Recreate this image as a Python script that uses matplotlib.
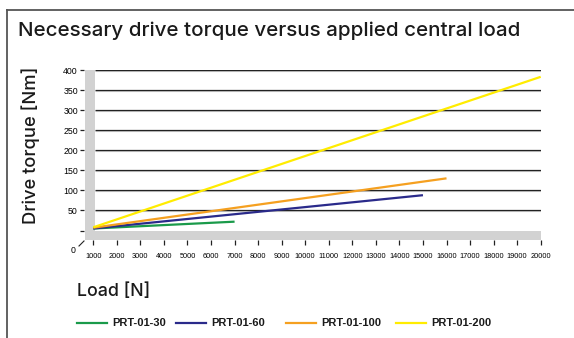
import matplotlib
matplotlib.use("Agg")
import matplotlib.pyplot as plt
from matplotlib.patches import Rectangle
from matplotlib.lines import Line2D

plt.rcParams['font.family'] = ['Liberation Sans', 'DejaVu Sans']

# Load [N] vs drive torque [Nm], start and end of each curve
series = ['PRT-01-30', 'PRT-01-60', 'PRT-01-100', 'PRT-01-200']
load_30 = [1000, 7000]
torque_30 = [5, 22]
load_60 = [1000, 15000]
torque_60 = [5, 88]
load_100 = [1000, 16000]
torque_100 = [7, 130]
load_200 = [1000, 20000]
torque_200 = [8, 383]
colors = ['#1a9a4a', '#2a2a8a', '#f5a020', '#ffec00']

x_ticks = list(range(1000, 21000, 1000))
y_ticks = [0, 50, 100, 150, 200, 250, 300, 350, 400]
y_labels = ['', '50', '100', '150', '200', '250', '300', '350', '400']

W, H = 574, 338
fig = plt.figure(figsize=(W / 100, H / 100), dpi=100)

def fx(x):
    return x / W

def fy(y):
    return 1 - y / H

# plot area in pixels: x 1000 -> 93, 20000 -> 541 ; y 0 -> 230.5, 400 -> 70
left, right, top, bottom = 93.3, 540.7, 70, 230.5
ax = fig.add_axes([fx(left), fy(bottom), fx(right - left), (bottom - top) / H])
ax.set_xlim(1000, 20000)
ax.set_ylim(0, 400)
ax.patch.set_visible(False)

# frame around the figure (left and top only)
fig.add_artist(Line2D([fx(7), fx(7)], [fy(10), fy(H + 2)], transform=fig.transFigure,
                      color='#555555', lw=1.3))
fig.add_artist(Line2D([fx(7), fx(W + 2)], [fy(10), fy(10)], transform=fig.transFigure,
                      color='#555555', lw=1.3))

# grey wall and floor
gray = '#d2d2d2'
ax.add_patch(Rectangle((fx(85), fy(240)), fx(10), (240 - 70) / H, transform=fig.transFigure,
                       facecolor=gray, edgecolor='none', clip_on=False, zorder=0))
ax.add_patch(Rectangle((fx(85), fy(239.5)), fx(540.7 - 85), 9 / H, transform=fig.transFigure,
                       facecolor=gray, edgecolor='none', clip_on=False, zorder=0))

# gridlines on the back wall, with a faint shadow underneath
ax.hlines(y_ticks[1:], 1072, 20000, colors='#c8c8c8', lw=0.8, zorder=1,
          transform=ax.transData + matplotlib.transforms.ScaledTranslation(0, -1 / 100, fig.dpi_scale_trans))
ax.hlines(y_ticks[1:], 1072, 20000, colors='#222222', lw=0.9, zorder=1)

for xs, ys, c, name in zip([load_30, load_60, load_100, load_200],
                           [torque_30, torque_60, torque_100, torque_200], colors, series):
    ax.plot(xs, ys, color=c, lw=1.6, label=name, zorder=3, solid_capstyle='butt')

for s in ['top', 'right']:
    ax.spines[s].set_visible(False)
ax.spines['bottom'].set_position(('outward', 6.8))
ax.spines['left'].set_position(('outward', 6.7))
ax.spines['bottom'].set_color('none')
ax.spines['left'].set_color('none')

ax.set_xticks(x_ticks)
ax.set_xticklabels([str(v) for v in x_ticks],
                   fontfamily=['Liberation Sans Narrow', 'Liberation Sans'], fontsize=5.3)
ax.set_yticks(y_ticks)
ax.set_yticklabels(y_labels, fontsize=6.3)
ax.tick_params(axis='x', length=3.6, width=0.9, color='#222222', pad=5.5)
ax.tick_params(axis='y', length=2.9, width=0.9, color='#222222', pad=1.5)

# origin label sits on the front edge
fig.text(fx(73), fy(250.5), '0', fontsize=6.3, ha='center', va='center')
fig.add_artist(Line2D([fx(79), fx(84)], [fy(246), fy(241)], transform=fig.transFigure,
                      color='#222222', lw=0.8))

head = ['Inter', 'Liberation Sans']
fig.text(fx(18), fy(31), 'Necessary drive torque versus applied central load',
         fontsize=14.8, fontfamily=head, fontweight='medium',
         ha='left', va='center', color='#1a1a1a')
fig.text(fx(31), fy(145), 'Drive torque [Nm]', fontsize=13.2, rotation=90,
         fontfamily=head, fontweight='medium', ha='center', va='center', color='#1a1a1a')
fig.text(fx(77), fy(292), 'Load [N]', fontsize=12.8, fontfamily=head, fontweight='medium',
         ha='left', va='center', color='#1a1a1a')

# legend row
legend_x = [77, 176, 286, 396]
for lx, c, name in zip(legend_x, colors, series):
    fig.add_artist(Line2D([fx(lx), fx(lx + 30)], [fy(323), fy(323)], transform=fig.transFigure,
                          color=c, lw=1.6))
    fig.text(fx(lx + 35), fy(323), name, fontsize=8, fontweight='bold', ha='left', va='center',
             color='#1a1a1a')

fig.savefig('out.png', dpi=100)
